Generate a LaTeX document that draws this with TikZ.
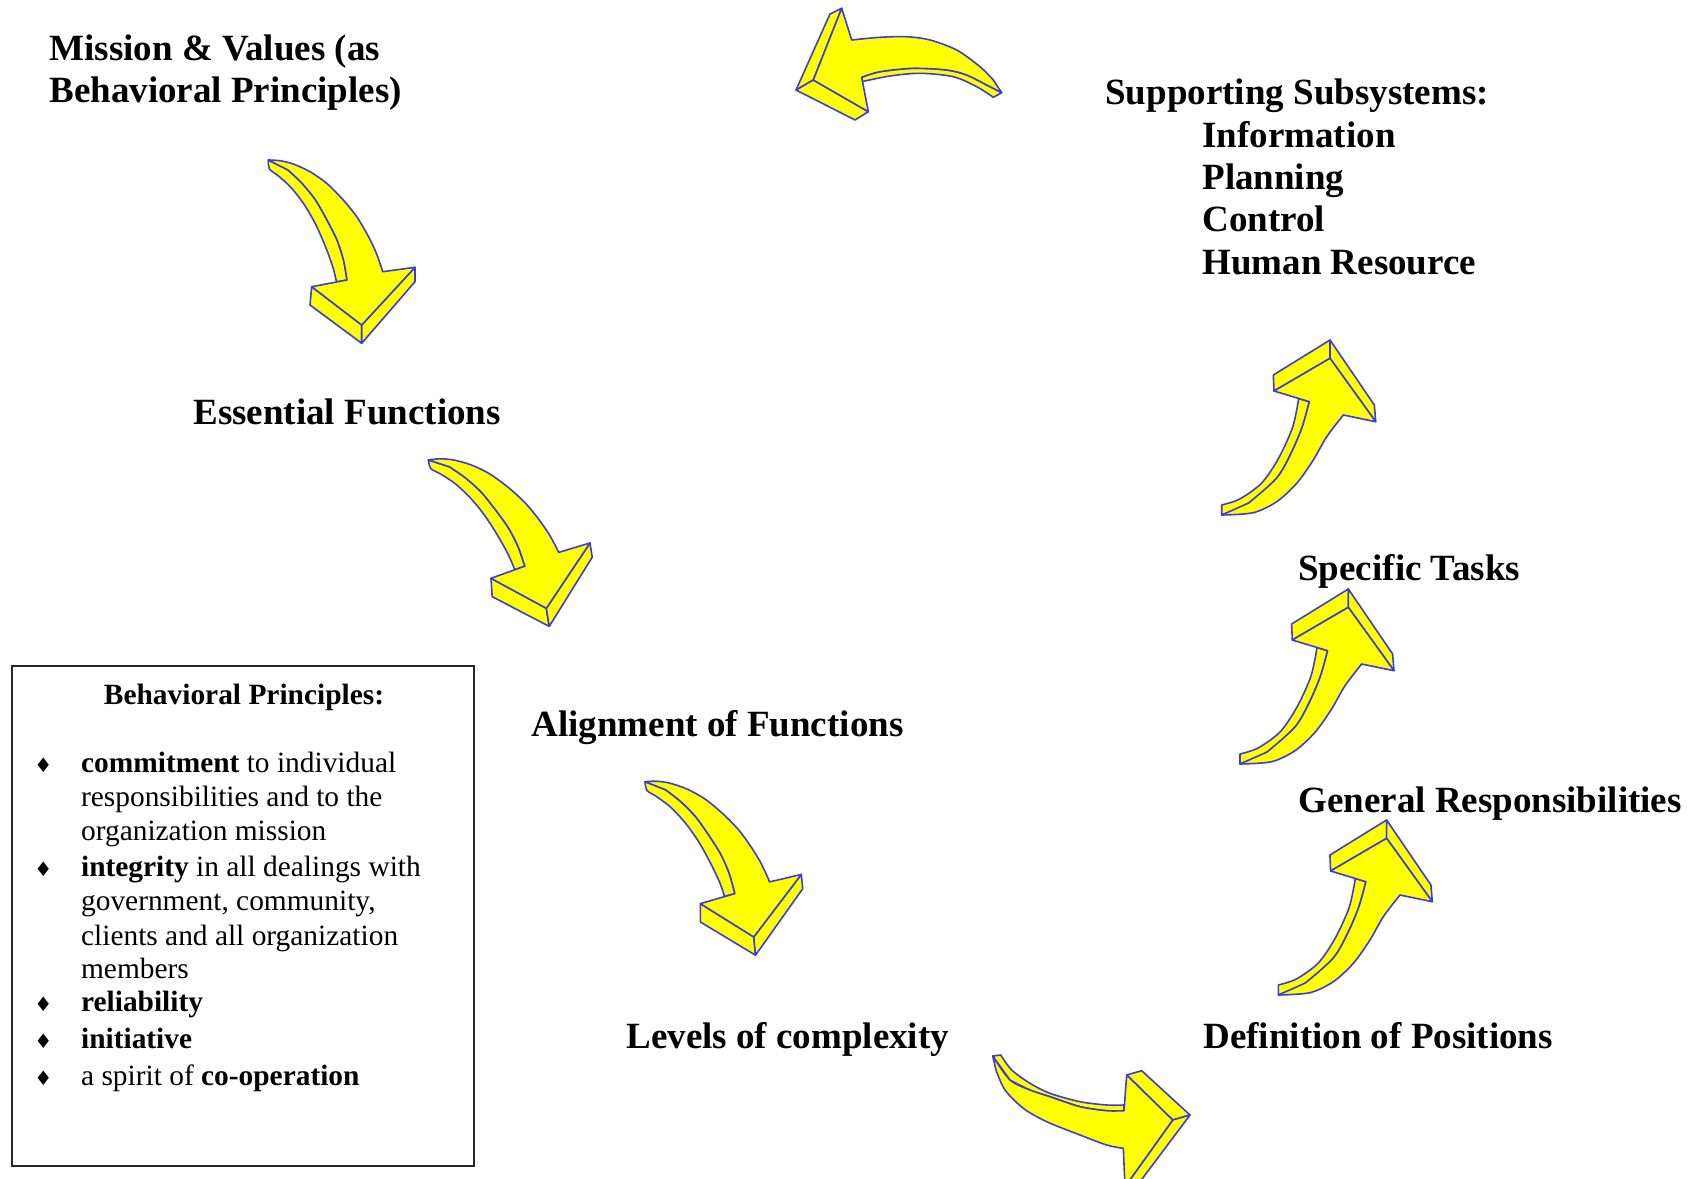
\documentclass[tikz,border=0pt]{standalone}
\usepackage{fontspec}
\setmainfont{Liberation Serif}
\newfontfamily\symfont{DejaVu Sans}

\definecolor{arrowyellow}{RGB}{255,255,0}
\definecolor{arrowblue}{RGB}{60,60,220}
\definecolor{boxline}{RGB}{40,40,40}

\tikzset{
  arrowface/.style={fill=arrowyellow, draw=arrowblue, line width=0.8pt, line join=round},
  steplabel/.style={anchor=base west, inner sep=0pt, font=\fontsize{18.5pt}{21.3pt}\selectfont\bfseries},
  boxtitle/.style={anchor=base, inner sep=0pt, font=\fontsize{14.7pt}{17pt}\selectfont\bfseries},
  boxtext/.style={anchor=base west, inner sep=0pt, font=\fontsize{14.7pt}{17pt}\selectfont},
  boxbullet/.style={anchor=base, inner sep=0pt, font=\symfont\fontsize{10pt}{12pt}\selectfont},
  principlebox/.style={draw=boxline, line width=0.9pt}
}

% bent 3-D arrow, tail at the origin, head pointing down
\newcommand\bentdown{%
  \filldraw[arrowface] plot[smooth] coordinates {(0.3,0) (1.5,9) (10.5,16) (23.5,28) (36.5,45) (48,65) (58,88) (65,107.5) (68.5,122)}
    -- plot[smooth] coordinates {(79,120) (75.5,100) (69,80) (59,60) (47.5,40) (34,23.3) (20,10)} -- cycle;
  \filldraw[arrowface] (43.7,126.7) -- (42,145) -- (93.7,183.3) -- (93.7,165) -- cycle;
  \filldraw[arrowface] (93.7,165) -- (93.7,183.3) -- (147,121.7) -- (147,107.3) -- cycle;
  \filldraw[arrowface] plot[smooth] coordinates {(0.3,0) (12,0.7) (25.3,4) (42,11.7) (58.7,23.3) (75.3,40) (88.7,56.7) (98.7,73.3) (107,90) (112,103.3) (114.7,111.7)}
    -- (147,107.3) -- (93.7,165) -- (43.7,126.7)
    -- plot[smooth] coordinates {(79,120) (75.5,100) (69,80) (59,60) (47.5,40) (34,23.3) (20,10)} -- cycle;
}

% bent 3-D arrow, tail at the origin, head pointing up and right
\newcommand\bentup{%
  \filldraw[arrowface] plot[smooth] coordinates {(0,-10) (18,-16) (40,-32) (57,-57) (71,-88) (77,-116.5)}
    -- plot[smooth] coordinates {(87.6,-113.3) (80.5,-88) (69.5,-62) (55,-37) (27,-12) (0,0)} -- cycle;
  \filldraw[arrowface] (52.3,-124) -- (51.6,-140) -- (108.3,-175) -- (108.3,-156.7) -- cycle;
  \filldraw[arrowface] (108.3,-156.7) -- (108.3,-175) -- (152.6,-110) -- (154,-93.3) -- cycle;
  \filldraw[arrowface] plot[smooth] coordinates {(0,0) (31.6,-2.3) (55,-13.3) (75,-31.7) (91.6,-55) (105,-78.3) (121.6,-100)}
    -- (154,-93.3) -- (108.3,-156.7) -- (52.3,-124)
    -- plot[smooth] coordinates {(87.6,-113.3) (80.5,-88) (69.5,-62) (55,-37) (27,-12)} -- cycle;
}

\begin{document}
\begin{tikzpicture}[x=0.5pt, y=-0.5pt]
\useasboundingbox (0,0) rectangle (1696,1178);

% ---- labels of the cycle ----
\node[steplabel] (mission1) at (49,60) {Mission \& Values (as};
\node[steplabel] (mission2) at (49,102.6) {Behavioral Principles)};
\node[steplabel] (essential) at (193,424.3) {Essential Functions};
\node[steplabel] (alignment) at (531,736) {Alignment of Functions};
\node[steplabel] (levels) at (626,1048.6) {Levels of complexity};
\node[steplabel] (definition) at (1203,1048.6) {Definition of Positions};
\node[steplabel] (general) at (1298,812.8) {General Responsibilities};
\node[steplabel] (specific) at (1298,580.3) {Specific Tasks};
\node[steplabel] (supporting) at (1105,104) {Supporting Subsystems:};
\node[steplabel] (information) at (1202,147.3) {Information};
\node[steplabel] (planning) at (1202,189.5) {Planning};
\node[steplabel] (control) at (1202,231.5) {Control};
\node[steplabel] (human) at (1202,274) {Human Resource};

% ---- arrows between the stages ----
\begin{scope}[shift={(268,160)}] \bentdown \end{scope}
\begin{scope}[shift={(428,460)}, rotate=9] \bentdown \end{scope}
\begin{scope}[shift={(644.7,781.7)}, rotate=5.5] \bentdown \end{scope}
\begin{scope}[shift={(1278.3,995)}] \bentup \end{scope}
\begin{scope}[shift={(1240,764)}] \bentup \end{scope}
\begin{scope}[shift={(1221.7,515)}] \bentup \end{scope}

% arrow pointing right, cut by the lower edge
\begin{scope}
  \clip (0,0) rectangle (1696,1178);
  \begin{scope}[shift={(993,1055)}]
    \filldraw[arrowface] (-0.3,1) -- plot[smooth] coordinates {(7.7,0) (18.7,15) (37,28.3) (57,38.3) (87,46.7) (113.7,50) (131,50)}
      -- plot[smooth] coordinates {(131,55.7) (113.7,55.7) (87,51.7) (57,41.7) (37,35) (17,25)} -- cycle;
    \filldraw[arrowface] (133.7,20) -- (148.7,15.7) -- (197,60) -- (179.7,65) -- cycle;
    \filldraw[arrowface] (179.7,65) -- (197,60) -- (147,126.7) -- (132,131.7) -- cycle;
    \filldraw[arrowface] plot[smooth] coordinates {(-0.3,1) (17,25) (37,35) (57,41.7) (87,51.7) (113.7,55.7) (131,55.7)}
      -- (133.7,20) -- (179.7,65) -- (132,131.7)
      -- plot[smooth] coordinates {(130.3,93.3) (113.7,90) (87,80) (53.7,66.7) (30.3,53.3) (12,35) (3,15)} -- cycle;
  \end{scope}
\end{scope}

% arrow pointing left at the top
\begin{scope}[shift={(795,9)}]
  \filldraw[arrowface] plot[smooth] coordinates {(66.7,68.3) (85,62.7) (118.3,59.3) (151.7,61) (171.7,66) (191.7,76) (206.7,83.7)}
    -- plot[smooth] coordinates {(198.3,88.3) (181.7,77.7) (158.3,67.7) (125,64.3) (95,67) (66.7,72.7)} -- cycle;
  \filldraw[arrowface] (46.7,-0.7) -- (35,5) -- (1,81) -- (18.3,71) -- cycle;
  \filldraw[arrowface] (18.3,71) -- (1,81) -- (60,111) -- (73.3,102.7) -- cycle;
  \filldraw[arrowface] (46.7,-0.7) -- (18.3,71) -- (73.3,102.7)
    -- plot[smooth] coordinates {(66.7,68.3) (85,62.7) (118.3,59.3) (151.7,61) (171.7,66) (191.7,76) (206.7,83.7)}
    -- plot[smooth] coordinates {(198.3,71) (185,57.7) (161.7,41) (135,31) (111.7,27.7) (85,28.3) (56.7,31)} -- cycle;
\end{scope}

% ---- box of behavioral principles ----
\draw[principlebox] (12,666) rectangle (474,1166);
\node[boxtitle] (bptitle) at (244,704) {Behavioral Principles:};

\node[boxbullet] (b1) at (43.3,772.7) {♦};
\node[boxtext] (t1a) at (80.7,772.7) {\textbf{commitment} to individual};
\node[boxtext] (t1b) at (80.7,806.7) {responsibilities and to the};
\node[boxtext] (t1c) at (80.7,840) {organization mission};

\node[boxbullet] (b2) at (43.3,876.7) {♦};
\node[boxtext] (t2a) at (80.7,876.7) {\textbf{integrity} in all dealings with};
\node[boxtext] (t2b) at (80.7,910.7) {government, community,};
\node[boxtext] (t2c) at (80.7,945) {clients and all organization};
\node[boxtext] (t2d) at (80.7,978.3) {members};

\node[boxbullet] (b3) at (43.3,1011.7) {♦};
\node[boxtext] (t3) at (80.7,1011.7) {\textbf{reliability}};

\node[boxbullet] (b4) at (43.3,1048.3) {♦};
\node[boxtext] (t4) at (80.7,1048.3) {\textbf{initiative}};

\node[boxbullet] (b5) at (43.3,1085) {♦};
\node[boxtext] (t5) at (80.7,1085) {a spirit of \textbf{co-operation}};
\end{tikzpicture}
\end{document}
